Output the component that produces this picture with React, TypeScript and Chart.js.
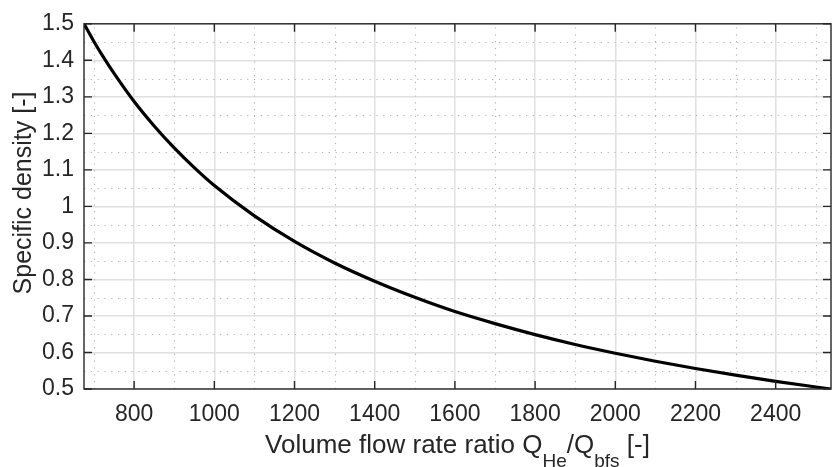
import React, { useEffect, useRef } from 'react';
import { Chart, registerables } from 'chart.js';

Chart.register(...registerables);

// Data
const flowRatio = [675, 700, 725, 750, 800, 850, 900, 950, 1000, 1100, 1200, 1300, 1400, 1500, 1600, 1700, 1800, 1900, 2000, 2100, 2200, 2300, 2400, 2538];
const specificDensity = [1.5, 1.451, 1.406, 1.364, 1.287, 1.22, 1.16, 1.106, 1.057, 0.974, 0.904, 0.845, 0.795, 0.751, 0.712, 0.679, 0.649, 0.622, 0.598, 0.576, 0.556, 0.538, 0.521, 0.5];

const xTickValues = [800, 1000, 1200, 1400, 1600, 1800, 2000, 2200, 2400];
const yTickValues = [0.5, 0.6, 0.7, 0.8, 0.9, 1.0, 1.1, 1.2, 1.3, 1.4, 1.5];
const xMinorValues = [700, 900, 1100, 1300, 1500, 1700, 1900, 2100, 2300, 2500];
const yMinorValues = [0.55, 0.65, 0.75, 0.85, 0.95, 1.05, 1.15, 1.25, 1.35, 1.45];

const xMin = 675;
const xMax = 2538;
const yMin = 0.5;
const yMax = 1.5;

const yAxisLabel = 'Specific density [-]';
const xLabelParts = [
  { text: 'Volume flow rate ratio Q', sub: false },
  { text: 'He', sub: true },
  { text: '/Q', sub: false },
  { text: 'bfs', sub: true },
  { text: ' [-]', sub: false },
];

const FONT = "'Liberation Sans', Arial, Helvetica, sans-serif";
const TEXT = '#262626';

const matlabAxes = {
  id: 'matlabAxes',
  beforeDatasetsDraw(chart: any) {
    const { ctx, chartArea: a, scales } = chart;
    const x = scales.x;
    const y = scales.y;
    ctx.save();
    ctx.beginPath();
    ctx.rect(a.left, a.top, a.right - a.left, a.bottom - a.top);
    ctx.clip();
    ctx.strokeStyle = '#b4b4b4';
    ctx.lineWidth = 1.2;
    ctx.setLineDash([1.2, 5.6]);
    ctx.beginPath();
    for (const v of xMinorValues) {
      const px = Math.round(x.getPixelForValue(v)) + 0.5;
      ctx.moveTo(px, a.bottom);
      ctx.lineTo(px, a.top);
    }
    for (const v of yMinorValues) {
      const py = Math.round(y.getPixelForValue(v)) + 0.5;
      ctx.moveTo(a.left, py);
      ctx.lineTo(a.right, py);
    }
    ctx.stroke();
    ctx.restore();
  },
  afterDraw(chart: any) {
    const { ctx, chartArea: a, scales } = chart;
    const x = scales.x;
    const y = scales.y;
    ctx.save();
    ctx.strokeStyle = TEXT;
    ctx.lineWidth = 1.4;
    ctx.setLineDash([]);
    ctx.strokeRect(a.left, a.top, a.right - a.left, a.bottom - a.top);
    const tl = 8;
    ctx.beginPath();
    for (const v of xTickValues) {
      const px = x.getPixelForValue(v);
      ctx.moveTo(px, a.bottom);
      ctx.lineTo(px, a.bottom - tl);
      ctx.moveTo(px, a.top);
      ctx.lineTo(px, a.top + tl);
    }
    for (const v of yTickValues) {
      const py = y.getPixelForValue(v);
      ctx.moveTo(a.left, py);
      ctx.lineTo(a.left + tl, py);
      ctx.moveTo(a.right, py);
      ctx.lineTo(a.right - tl, py);
    }
    ctx.stroke();

    // x-axis title with subscripts
    const mainFont = `26px ${FONT}`;
    const subFont = `19px ${FONT}`;
    let total = 0;
    const widths: number[] = [];
    for (const p of xLabelParts) {
      ctx.font = p.sub ? subFont : mainFont;
      const w = ctx.measureText(p.text).width;
      widths.push(w);
      total += w;
    }
    const cx = (a.left + a.right) / 2;
    let sx = cx - total / 2;
    const baseline = 453;
    ctx.fillStyle = TEXT;
    ctx.textBaseline = 'alphabetic';
    ctx.textAlign = 'left';
    xLabelParts.forEach((p, i) => {
      ctx.font = p.sub ? subFont : mainFont;
      ctx.fillText(p.text, sx, p.sub ? baseline + 14 : baseline);
      sx += widths[i];
    });

    // y-axis title
    ctx.save();
    ctx.translate(31, 193);
    ctx.rotate(-Math.PI / 2);
    ctx.font = `25px ${FONT}`;
    ctx.textAlign = 'center';
    ctx.textBaseline = 'alphabetic';
    ctx.fillText(yAxisLabel, 0, 0);
    ctx.restore();

    ctx.restore();
  },
};

export default function App() {
  const ref = useRef<HTMLCanvasElement>(null);
  useEffect(() => {
    const canvas = ref.current;
    if (!canvas) return;
    const points = flowRatio.map((v, i) => ({ x: v, y: specificDensity[i] }));
    const chart = new Chart(canvas, {
      type: 'line',
      data: {
        datasets: [
          {
            data: points,
            borderColor: '#000000',
            borderWidth: 3.2,
            pointRadius: 0,
            fill: false,
            cubicInterpolationMode: 'monotone',
          },
        ],
      },
      options: {
        animation: false,
        responsive: false,
        devicePixelRatio: 1,
        layout: { padding: { top: 15, right: 1, left: 0, bottom: 0 } },
        plugins: { legend: { display: false }, tooltip: { enabled: false } },
        scales: {
          x: {
            type: 'linear',
            min: xMin,
            max: xMax,
            afterBuildTicks: (scale: any) => {
              scale.ticks = xTickValues.map((v) => ({ value: v }));
            },
            afterFit: (scale: any) => {
              scale.height = 78;
            },
            ticks: {
              color: TEXT,
              font: { family: FONT, size: 23 },
              padding: 12,
              maxRotation: 0,
              autoSkip: false,
              callback: (v: any) => String(v),
            },
            grid: { color: '#e0e0e0', lineWidth: 1.5, drawTicks: false },
            border: { display: false },
          },
          y: {
            type: 'linear',
            min: yMin,
            max: yMax,
            afterBuildTicks: (scale: any) => {
              scale.ticks = yTickValues.map((v) => ({ value: v }));
            },
            afterFit: (scale: any) => {
              scale.width = 84;
            },
            ticks: {
              color: TEXT,
              font: { family: FONT, size: 23 },
              padding: 10,
              autoSkip: false,
              callback: (v: any) => String(Number(Number(v).toFixed(2))),
            },
            grid: { color: '#e0e0e0', lineWidth: 1.5, drawTicks: false },
            border: { display: false },
          },
        },
      },
      plugins: [matlabAxes],
    });
    return () => chart.destroy();
  }, []);
  return (
    <div style={{ position: 'absolute', left: 0, top: 0, width: 832, height: 467, background: '#ffffff' }}>
      <canvas ref={ref} width={832} height={467} />
    </div>
  );
}
